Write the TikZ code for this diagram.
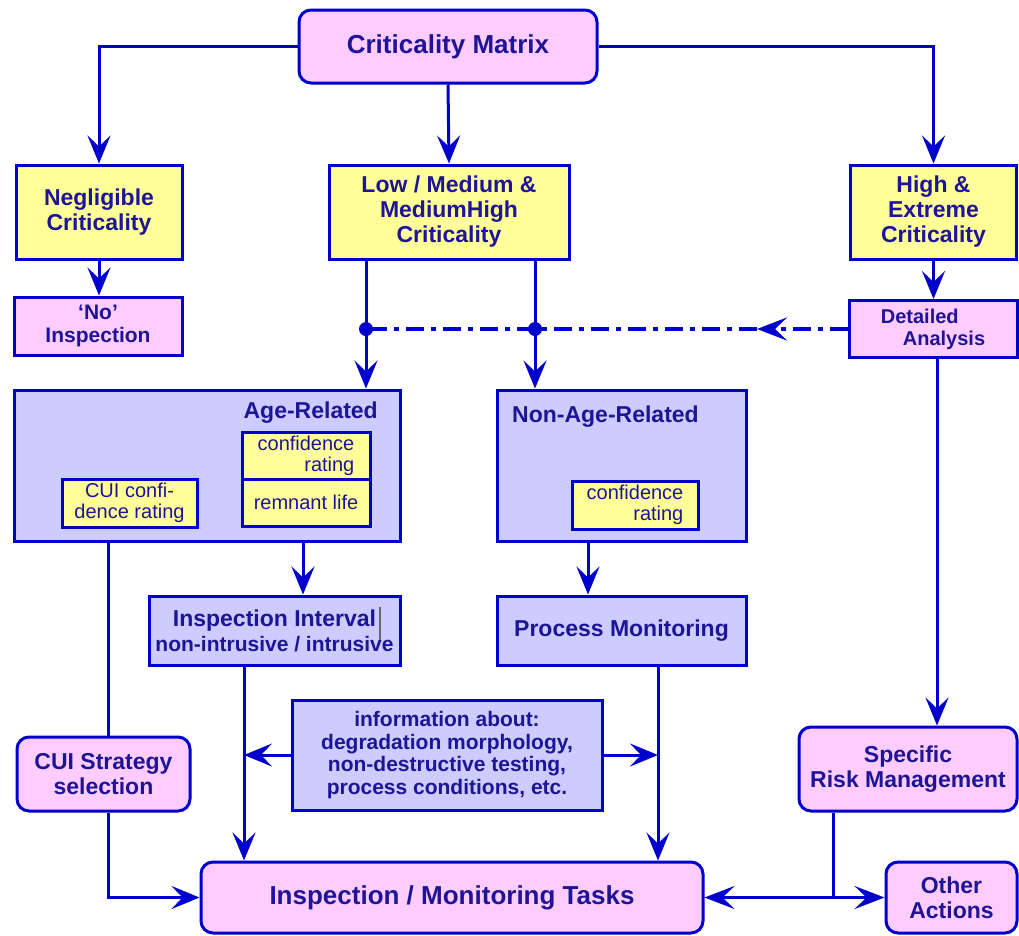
\documentclass[tikz,border=0pt]{standalone}
\usepackage{fontspec}
\setmainfont{Liberation Sans}
\usetikzlibrary{arrows.meta,positioning}
\definecolor{linblue}{RGB}{0,0,204}
\definecolor{txtblue}{RGB}{30,20,150}
\definecolor{pinkfill}{RGB}{255,204,255}
\definecolor{yellowfill}{RGB}{255,255,153}
\definecolor{lilacfill}{RGB}{204,204,255}
\tikzset{
  box/.style={draw=linblue, line width=3pt, text=txtblue, align=center, inner sep=2pt,
    font=\fontsize{23}{25}\selectfont\bfseries},
  pinkbox/.style={box, fill=pinkfill},
  pinkround/.style={pinkbox, rounded corners=12pt},
  yellowbox/.style={box, fill=yellowfill},
  lilacbox/.style={box, fill=lilacfill},
  smallbox/.style={yellowbox, inner xsep=6pt, font=\fontsize{20}{21}\selectfont},
  lbl/.style={text=txtblue, inner sep=0pt, font=\fontsize{23}{25}\selectfont\bfseries},
  conn/.style={draw=linblue, line width=3pt},
  arr/.style={conn, -{Stealth[length=28pt,width=23pt,inset=11pt]}},
  dashdot/.style={conn, line width=4pt, dash pattern=on 18pt off 7pt on 5pt off 7pt},
}
\begin{document}
\begin{tikzpicture}[x=1pt,y=-1pt]
    \useasboundingbox (0,0) rectangle (1019,935);

    % matrix
    \node[pinkround, minimum width=298pt, minimum height=73pt,
      font=\fontsize{26}{28}\selectfont\bfseries] (cm) at (448,46.5) {Criticality Matrix};

    % criticality classes
    \node[yellowbox, minimum width=166pt, minimum height=94pt] (neg) at (99,212) {Negligible\\Criticality};
    \node[yellowbox, minimum width=240pt, minimum height=94pt] (low) at (449,212) {Low / Medium \&\\MediumHigh\\Criticality};
    \node[yellowbox, minimum width=166pt, minimum height=94pt] (high) at (933.5,212) {High \&\\Extreme\\Criticality};

    \node[pinkbox, minimum width=168pt, minimum height=58pt,
      font=\fontsize{21}{23}\selectfont\bfseries] (noinsp) at (98,326) {‘No’\\Inspection};
    \node[pinkbox, minimum width=168pt, minimum height=57pt, align=left,
      font=\fontsize{20}{22}\selectfont\bfseries] (da) at (933,329) {Detailed\\\hspace*{1.1em}Analysis};

    % age related
    \node[lilacbox, minimum width=386pt, minimum height=151pt] (age) at (207,465.5) {};
    \node[lbl, anchor=base east] (agelbl) at (378,418) {Age-Related};
    \node[smallbox, minimum width=128pt, minimum height=47pt, align=right] (conf1) at (306,455.5) {confidence\\rating};
    \node[smallbox, minimum width=128pt, minimum height=47pt] (rem) at (306,502.5) {remnant life};
    \node[smallbox, minimum width=135pt, minimum height=48pt] (cuiconf) at (129.5,503) {CUI confi-\\dence rating};

    % non-age related
    \node[lilacbox, minimum width=249pt, minimum height=151pt] (nonage) at (621.5,465.5) {};
    \node[lbl, anchor=base west] (nonagelbl) at (512,422) {Non-Age-Related};
    \node[smallbox, minimum width=126pt, minimum height=48pt, align=right] (conf2) at (635,505) {confidence\\rating};

    % interval and monitoring
    \node[lilacbox, minimum width=251pt, minimum height=69pt] (ii) at (274.5,630.5)
      {Inspection Interval\\{\fontsize{21}{22}\selectfont non-intrusive / intrusive}};
    \draw[black!60, line width=1.5pt] (380,607) -- (380,640);
    \node[lilacbox, minimum width=249pt, minimum height=69pt] (pm) at (621.5,630.5) {Process Monitoring};

    % information
    \node[lilacbox, minimum width=310pt, minimum height=110pt,
      font=\fontsize{21}{22.5}\selectfont\bfseries] (info) at (447,755)
      {information about:\\degradation morphology,\\non-destructive testing,\\process conditions, etc.};

    \node[pinkround, minimum width=173pt, minimum height=74pt] (cuis) at (103.5,774) {CUI Strategy\\selection};
    \node[pinkround, minimum width=218pt, minimum height=84pt] (srm) at (908,769) {Specific\\Risk Management};

    % tasks
    \node[pinkround, minimum width=502pt, minimum height=71pt,
      font=\fontsize{26}{28}\selectfont\bfseries] (imt) at (452,897.5) {Inspection / Monitoring Tasks};
    \node[pinkround, minimum width=131pt, minimum height=71pt] (oa) at (951.5,897.5) {Other\\Actions};

    % connector positions
    \coordinate (d1) at (366,329);
    \coordinate (d2) at (535,329);
    \coordinate (tipc) at (757,329);
    \coordinate (ax) at (303,0);
    \coordinate (nx) at (588,0);
    \coordinate (cx) at (108,0);
    \coordinate (ix) at (244,0);
    \coordinate (px) at (658,0);
    \coordinate (rx) at (937,0);
    \coordinate (sx) at (833,0);

    % from the matrix
    \draw[arr] (cm.west) -| (neg.north);
    \draw[arr] (cm.south) -- (low.north);
    \draw[arr] (cm.east) -| (high.north);
    \draw[arr] (neg.south) -- (neg.south |- noinsp.north);
    \draw[arr] (high.south) -- (high.south |- da.north);

    % detailed analysis feedback
    \draw[dashdot, -{Stealth[length=30pt,width=23pt,inset=12pt]}] (da.west) -- (tipc);
    \draw[dashdot] (tipc) -- (d1);
    \draw[arr] (low.south -| d1) -- (age.north -| d1);
    \draw[arr] (low.south -| d2) -- (nonage.north -| d2);
    \fill[linblue] (d1) circle (7pt);
    \fill[linblue] (d2) circle (7pt);
    \draw[arr] (da.south -| rx) -- (srm.north -| rx);

    % middle row
    \draw[arr] (age.south -| ax) -- (ii.north -| ax);
    \draw[arr] (nonage.south -| nx) -- (pm.north -| nx);
    \draw[conn] (age.south -| cx) -- (cuis.north -| cx);
    \draw[arr] (cuis.south -| cx) |- (imt.west);
    \draw[arr] (ii.south -| ix) -- (imt.north -| ix);
    \draw[arr] (pm.south -| px) -- (imt.north -| px);
    \draw[arr] (info.west) -- (info.west -| ix);
    \draw[arr] (info.east) -- (info.east -| px);

    % risk management
    \draw[conn] (srm.south -| sx) -- (imt.east -| sx);
    \draw[arr, {Stealth[length=30pt,width=23pt,inset=12pt]}-{Stealth[length=30pt,width=23pt,inset=12pt]}] (imt.east) -- (oa.west);

\end{tikzpicture}
\end{document}
